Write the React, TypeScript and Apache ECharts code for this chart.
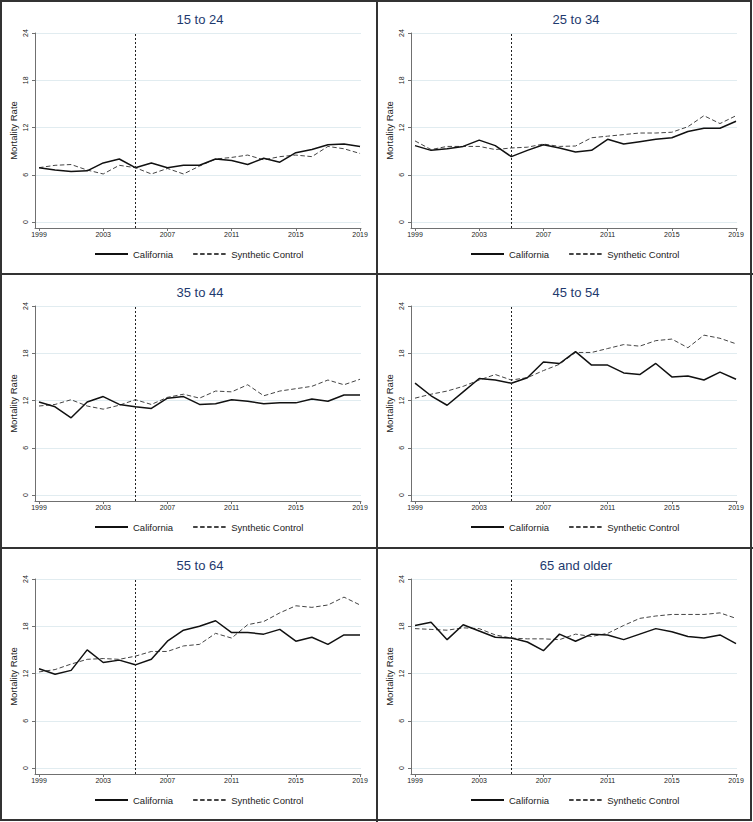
import React, { useEffect, useRef } from 'react';
import * as echarts from 'echarts';

const years = [1999, 2000, 2001, 2002, 2003, 2004, 2005, 2006, 2007, 2008, 2009, 2010, 2011, 2012, 2013, 2014, 2015, 2016, 2017, 2018, 2019];
const panelTitles = ['15 to 24', '25 to 34', '35 to 44', '45 to 54', '55 to 64', '65 and older'];
const xTickLabels = [1999, 2003, 2007, 2011, 2015, 2019];
const yTickLabels = [0, 6, 12, 18, 24];
const policyYear = 2005;
const seriesNames = ['California', 'Synthetic Control'];

const california15to24 = [6.9, 6.6, 6.4, 6.5, 7.5, 8.0, 6.9, 7.5, 6.9, 7.2, 7.2, 8.0, 7.8, 7.3, 8.1, 7.6, 8.8, 9.2, 9.8, 9.9, 9.6];
const synthetic15to24 = [6.9, 7.2, 7.3, 6.6, 6.1, 7.2, 6.9, 6.1, 6.8, 6.1, 7.1, 8.0, 8.2, 8.5, 7.9, 8.3, 8.5, 8.3, 9.6, 9.3, 8.7];

const california25to34 = [9.7, 9.1, 9.3, 9.6, 10.4, 9.7, 8.3, 9.1, 9.8, 9.4, 8.9, 9.1, 10.5, 9.9, 10.2, 10.5, 10.7, 11.5, 11.9, 11.9, 12.8];
const synthetic25to34 = [10.3, 9.2, 9.6, 9.6, 9.6, 9.2, 9.4, 9.5, 9.9, 9.6, 9.65, 10.7, 10.9, 11.1, 11.3, 11.3, 11.4, 12.1, 13.5, 12.5, 13.5];

const california35to44 = [11.8, 11.2, 9.8, 11.8, 12.5, 11.5, 11.2, 11.0, 12.3, 12.5, 11.5, 11.6, 12.1, 11.9, 11.6, 11.7, 11.7, 12.2, 11.9, 12.7, 12.7];
const synthetic35to44 = [11.3, 11.5, 12.1, 11.3, 10.9, 11.4, 12.1, 11.5, 12.4, 12.8, 12.3, 13.2, 13.1, 14.0, 12.6, 13.2, 13.5, 13.8, 14.6, 14.0, 14.7];

const california45to54 = [14.2, 12.6, 11.4, 13.1, 14.8, 14.6, 14.2, 14.9, 16.9, 16.7, 18.2, 16.5, 16.5, 15.5, 15.3, 16.7, 15.0, 15.1, 14.6, 15.6, 14.7];
const synthetic45to54 = [12.3, 12.8, 13.2, 13.8, 14.6, 15.3, 14.6, 14.9, 15.8, 16.6, 18.1, 18.1, 18.6, 19.1, 18.9, 19.6, 19.8, 18.7, 20.3, 19.9, 19.2];

const california55to64 = [12.6, 11.9, 12.4, 15.0, 13.4, 13.7, 13.1, 13.8, 16.1, 17.5, 18.0, 18.7, 17.2, 17.2, 17.0, 17.6, 16.1, 16.6, 15.7, 16.9, 16.9];
const synthetic55to64 = [12.2, 12.5, 13.2, 13.8, 13.9, 13.8, 14.2, 14.8, 14.8, 15.5, 15.7, 17.1, 16.5, 18.2, 18.6, 19.7, 20.6, 20.4, 20.7, 21.7, 20.7];

const california65plus = [18.1, 18.5, 16.3, 18.2, 17.4, 16.6, 16.5, 16.0, 14.9, 17.0, 16.1, 17.0, 16.9, 16.3, 17.0, 17.7, 17.3, 16.7, 16.5, 16.9, 15.8];
const synthetic65plus = [17.7, 17.6, 17.5, 17.8, 17.7, 16.9, 16.5, 16.4, 16.4, 16.3, 17.0, 16.7, 17.1, 18.1, 19.0, 19.3, 19.5, 19.5, 19.5, 19.7, 19.0];

const californiaSeries = [california15to24, california25to34, california35to44, california45to54, california55to64, california65plus];
const syntheticSeries = [synthetic15to24, synthetic25to34, synthetic35to44, synthetic45to54, synthetic55to64, synthetic65plus];

const FONT = '"Liberation Sans", Arial, Helvetica, sans-serif';

export default function App() {
  const ref = useRef<HTMLDivElement>(null);

  useEffect(() => {
    if (!ref.current) return;
    document.body.style.margin = '0';
    const chart = echarts.init(ref.current, undefined, { renderer: 'svg' });

    const colLeft = [35, 411];
    const rowTop = [33, 306, 579];

    const grids: any[] = [];
    const xAxes: any[] = [];
    const yAxes: any[] = [];
    const series: any[] = [];
    const legends: any[] = [];
    const graphics: any[] = [];

    panelTitles.forEach((title, i) => {
      const c = i % 2;
      const r = Math.floor(i / 2);
      const left = colLeft[c];
      const top = rowTop[r];
      grids.push({ left, top, width: 326, height: 195, containLabel: false });
      xAxes.push({
        type: 'value',
        gridIndex: i,
        min: 1998.75,
        max: 2019.06,
        axisLine: { show: true, onZero: false, lineStyle: { color: '#707070', width: 1 } },
        axisTick: { show: true, length: 3, customValues: xTickLabels, lineStyle: { color: '#707070' } },
        axisLabel: { customValues: xTickLabels, fontSize: 7, color: '#222', margin: 3, fontFamily: FONT, formatter: (v: number) => String(v) },
        splitLine: { show: false },
      });
      yAxes.push({
        type: 'value',
        gridIndex: i,
        min: -0.76,
        max: 24,
        name: 'Mortality Rate',
        nameLocation: 'middle',
        nameRotate: 90,
        nameGap: 17,
        nameTextStyle: { fontSize: 9.5, color: '#222', fontFamily: FONT },
        axisLine: { show: true, onZero: false, lineStyle: { color: '#707070', width: 1 } },
        axisTick: { show: true, length: 3, customValues: yTickLabels, lineStyle: { color: '#707070' } },
        axisLabel: { customValues: yTickLabels, fontSize: 7, color: '#222', rotate: 90, margin: 6, fontFamily: FONT },
        splitLine: { show: true, lineStyle: { color: '#e1ecf0', width: 1 } },
      });
      series.push({
        name: seriesNames[0],
        type: 'line',
        xAxisIndex: i,
        yAxisIndex: i,
        data: years.map((y, k) => [y, californiaSeries[i][k]]),
        symbol: 'none',
        lineStyle: { color: '#111', width: 1.5 },
        itemStyle: { color: '#111' },
        z: 3,
        markLine: {
          silent: true,
          symbol: 'none',
          label: { show: false },
          lineStyle: { color: '#222', width: 1, type: [2, 2] },
          data: [{ xAxis: policyYear }],
        },
      });
      series.push({
        name: seriesNames[1],
        type: 'line',
        xAxisIndex: i,
        yAxisIndex: i,
        data: years.map((y, k) => [y, syntheticSeries[i][k]]),
        symbol: 'none',
        lineStyle: { color: '#444', width: 1, type: [4.5, 2.5] },
        itemStyle: { color: '#444' },
        z: 2,
      });
      legends.push({
        left: 94 + c * 376,
        top: 249 + r * 273,
        padding: 0,
        itemWidth: 33,
        itemHeight: 8,
        itemGap: 19,
        selectedMode: false,
        itemStyle: { opacity: 0 },
        textStyle: { fontSize: 9.5, color: '#222', fontFamily: FONT },
        data: seriesNames,
      });
      graphics.push({
        type: 'text',
        x: 200 + c * 376,
        y: 19 + r * 273,
        style: {
          text: title,
          fontSize: 13,
          fill: '#1e3a6e',
          fontFamily: FONT,
          textAlign: 'center',
          textVerticalAlign: 'middle',
        },
      });
    });

    // frame
    graphics.push({ type: 'rect', shape: { x: 1, y: 1, width: 750, height: 819 }, style: { fill: 'none', stroke: '#333', lineWidth: 2 } });
    graphics.push({ type: 'line', shape: { x1: 377, y1: 0, x2: 377, y2: 822 }, style: { stroke: '#333', lineWidth: 2 } });
    graphics.push({ type: 'line', shape: { x1: 0, y1: 274, x2: 753, y2: 274 }, style: { stroke: '#333', lineWidth: 2 } });
    graphics.push({ type: 'line', shape: { x1: 0, y1: 548, x2: 753, y2: 548 }, style: { stroke: '#333', lineWidth: 2 } });

    chart.setOption({
      animation: false,
      backgroundColor: '#ffffff',
      grid: grids,
      xAxis: xAxes,
      yAxis: yAxes,
      series,
      legend: legends,
      graphic: graphics,
    });

    return () => chart.dispose();
  }, []);

  return <div ref={ref} style={{ position: 'absolute', left: 0, top: 0, width: 753, height: 822, background: '#fff' }} />;
}
